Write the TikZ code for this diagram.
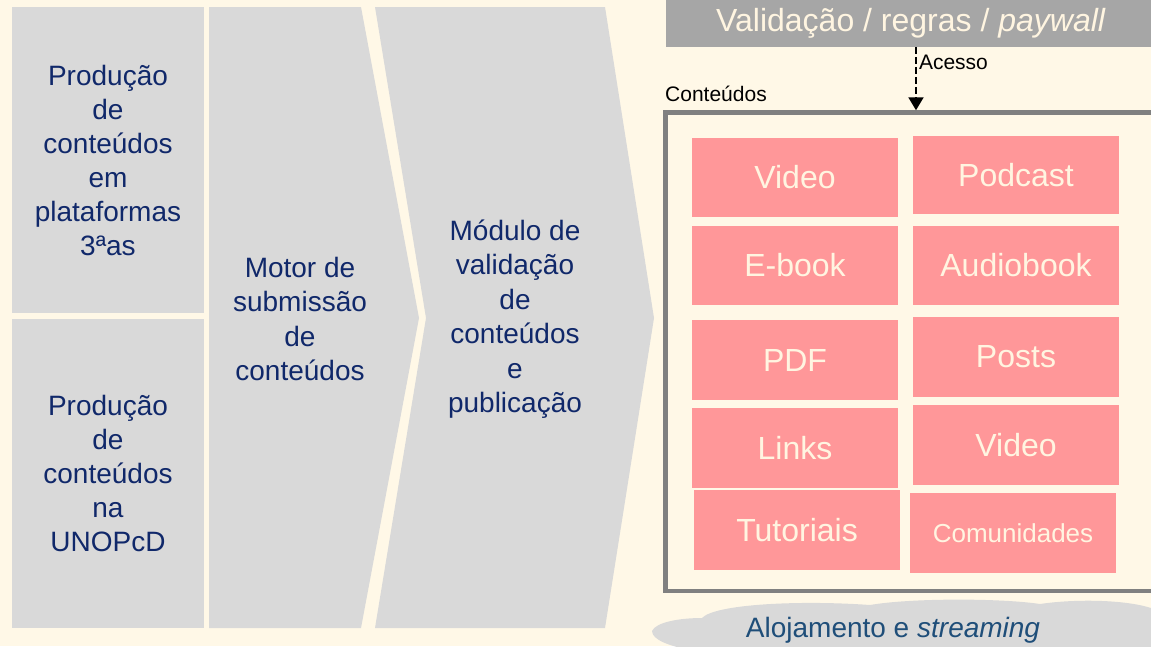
\documentclass[tikz,border=0pt]{standalone}
\usepackage{fontspec}
\setmainfont{Liberation Sans}
\usetikzlibrary{arrows.meta}
\definecolor{bgcream}{HTML}{FFF8E7}
\definecolor{boxgray}{HTML}{D9D9D9}
\definecolor{hdrgray}{HTML}{A6A6A6}
\definecolor{tilepink}{HTML}{FF9799}
\definecolor{tiletext}{HTML}{FFF5E1}
\definecolor{navy}{HTML}{10286A}
\definecolor{cloudtext}{HTML}{1F4E79}
\definecolor{framegray}{HTML}{808080}
\begin{document}
\begin{tikzpicture}[x=1pt,y=-1pt,
  srcbox/.style={fill=boxgray,inner sep=0pt,text=navy,align=center,
    font=\fontsize{28}{34}\selectfont},
  stagetxt/.style={text=navy,align=center,font=\fontsize{28}{34.5}\selectfont},
  tile/.style={fill=tilepink,inner sep=0pt,minimum width=206pt,text=tiletext,
    font=\fontsize{32}{36}\selectfont},
  small/.style={font=\fontsize{21}{24}\selectfont}]
  \useasboundingbox (0,0) rectangle (1151,646);
  \fill[bgcream] (0,0) rectangle (1151,646);
  \clip (0,0) rectangle (1151,646);
  % sources
  \node[srcbox,minimum width=192pt,minimum height=306pt] (prod3) at (108,160)
    {Produção\\de\\conteúdos\\em\\plataformas\\3ªas};
  \node[srcbox,minimum width=192pt,minimum height=309pt] (produ) at (108,473.5)
    {Produção\\de\\conteúdos\\na\\UNOPcD};
  % chevrons
  \fill[boxgray] (209,7) -- (361,7) -- (419,318) -- (361,628) -- (209,628) -- cycle;
  \fill[boxgray] (375,7) -- (605,7) -- (654,318) -- (605,628) -- (375,628) -- (426,318) -- cycle;
  \node[stagetxt] (motor) at (300,319) {Motor de\\submissão\\de\\conteúdos};
  \node[stagetxt] (modulo) at (515,319) {Módulo de\\validação\\de\\conteúdos\\e\\publicação};
  % hosting cloud
  \fill[boxgray] (652,631) .. controls (656,622) and (680,618) .. (702,618)
    .. controls (715,604) and (800,600) .. (870,605)
    .. controls (910,598) and (1000,598) .. (1040,604)
    .. controls (1080,598) and (1140,600) .. (1160,612)
    -- (1160,650) -- (690,650) .. controls (670,646) and (652,640) .. (652,631);
  \node[text=cloudtext,font=\fontsize{28}{32}\selectfont] (cloud) at (893,630)
    {Alojamento e \textit{streaming}};
  % access rules
  \node[fill=hdrgray,minimum width=490pt,minimum height=47pt,inner sep=0pt,
    text=tiletext,font=\fontsize{32}{36}\selectfont] (hdr) at (911,23.5)
    {Validação / regras / \textit{paywall}};
  \node[draw=framegray,line width=4.5pt,minimum width=501pt,minimum height=478.5pt,
    inner sep=0pt] (cbox) at (916,351.75) {};
  \node[small,anchor=base west,inner sep=0pt] (ctitle) at (665,101) {Conteúdos};
  \draw[line width=2pt,dash pattern=on 7pt off 3pt,-{Triangle[width=15pt,length=13pt]}]
    (hdr.south -| cbox.north) -- (cbox.north)
    node[small,pos=0.24,anchor=west,inner sep=2pt] (acc) {Acesso};
  % contents
  \node[tile,minimum height=79pt] (video) at (795,177.5) {Video};
  \node[tile,minimum height=78pt] (podcast) at (1016,175) {Podcast};
  \node[tile,minimum height=79pt] (ebook) at (795,265.5) {E-book};
  \node[tile,minimum height=79pt] (audio) at (1016,265.5) {Audiobook};
  \node[tile,minimum height=80pt] (pdf) at (795,360) {PDF};
  \node[tile,minimum height=80pt] (posts) at (1016,357) {Posts};
  \node[tile,minimum height=80pt] (links) at (795,448) {Links};
  \node[tile,minimum height=80pt] (video2) at (1016,445) {Video};
  \node[tile,minimum height=80pt] (tut) at (797,530) {Tutoriais};
  \node[tile,minimum height=80pt,font=\fontsize{26}{30}\selectfont] (comun) at (1013,533) {Comunidades};
\end{tikzpicture}
\end{document}
